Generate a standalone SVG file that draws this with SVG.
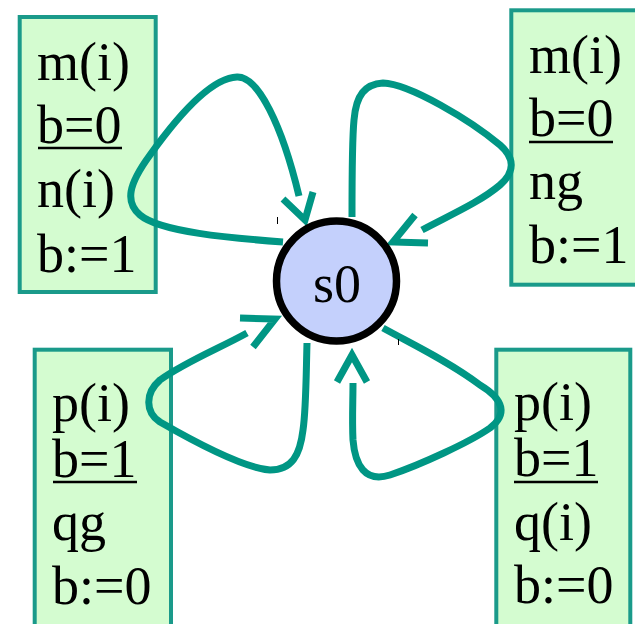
<svg xmlns="http://www.w3.org/2000/svg" width="635" height="624" viewBox="0 0 635 624">
<style>
.box{fill:#d4fcd0;stroke:#1a9a8a;stroke-width:4}
.t{font-family:"Liberation Serif","Times New Roman",serif;font-size:54px;fill:#000}
.ul{stroke:#000;stroke-width:2.5}
.edge{fill:none;stroke:#009684;stroke-width:7;stroke-linecap:butt;stroke-linejoin:miter}
.tick{stroke:#000;stroke-width:1}
</style>
<rect width="635" height="624" fill="#ffffff"/>
<g id="box-tl">
<rect class="box" x="19.7" y="17" width="136" height="275"/>
<text class="t" x="37" y="80">m(i)</text>
<text class="t" x="37" y="143">b=0</text>
<line class="ul" x1="38" y1="148" x2="122" y2="148"/>
<text class="t" x="37" y="207">n(i)</text>
<text class="t" x="37" y="272">b:=1</text>
</g>
<g id="box-tr">
<rect class="box" x="511.3" y="10.3" width="140" height="274.4"/>
<text class="t" x="529" y="73">m(i)</text>
<text class="t" x="529" y="136">b=0</text>
<line class="ul" x1="529" y1="142" x2="613" y2="142"/>
<text class="t" x="529" y="199">ng</text>
<text class="t" x="529" y="263">b:=1</text>
</g>
<g id="box-bl">
<rect class="box" x="34.7" y="349.7" width="136.3" height="300"/>
<text class="t" x="52" y="421">p(i)</text>
<text class="t" x="52" y="477">b=1</text>
<line class="ul" x1="53" y1="482" x2="137" y2="482"/>
<text class="t" x="52" y="540">qg</text>
<text class="t" x="52" y="604">b:=0</text>
</g>
<g id="box-br">
<rect class="box" x="496.3" y="349.7" width="134" height="300"/>
<text class="t" x="514" y="420">p(i)</text>
<text class="t" x="514" y="476">b=1</text>
<line class="ul" x1="514" y1="482" x2="598" y2="482"/>
<text class="t" x="514" y="540">q(i)</text>
<text class="t" x="514" y="603">b:=0</text>
</g>
<g id="connectors">
<path class="edge" d="M283,242 C230,238 160,232 140,215 C125,202 128,185 150,155 C175,120 210,78 237,77 C258,76 282,125 299,196"/>
<polyline class="edge" points="283,199 305,220 313,192"/>
<path class="edge" d="M352,217 C352,180 352,140 354,120 C356,95 365,84 383,83 C410,84 470,120 500,145 C515,158 515,172 500,185 C480,202 450,215 422,230"/>
<polyline class="edge" points="415,215 393,242 428,243"/>
<path class="edge" d="M307,343 C306,380 306,410 303,430 C300,455 292,470 270,470 C245,468 200,445 160,422 C145,412 145,393 160,380 C185,362 220,348 247,333"/>
<polyline class="edge" points="240,318 275,319 253,347"/>
<path class="edge" d="M383,328 C410,343 450,362 480,385 C505,400 507,415 490,428 C470,442 420,465 390,475 C365,483 355,465 353,440 C352,420 353,400 353,383"/>
<polyline class="edge" points="337,382 352,355 367,382"/>
</g>
<g id="s0">
<circle cx="336.5" cy="281" r="60" fill="#c4d0fc" stroke="#000" stroke-width="7.5"/>
<text class="t" x="337" y="302" text-anchor="middle">s0</text>
</g>
<line class="tick" x1="277.5" y1="217" x2="277.5" y2="224"/>
<line class="tick" x1="398.5" y1="339" x2="398.5" y2="345"/>
</svg>
